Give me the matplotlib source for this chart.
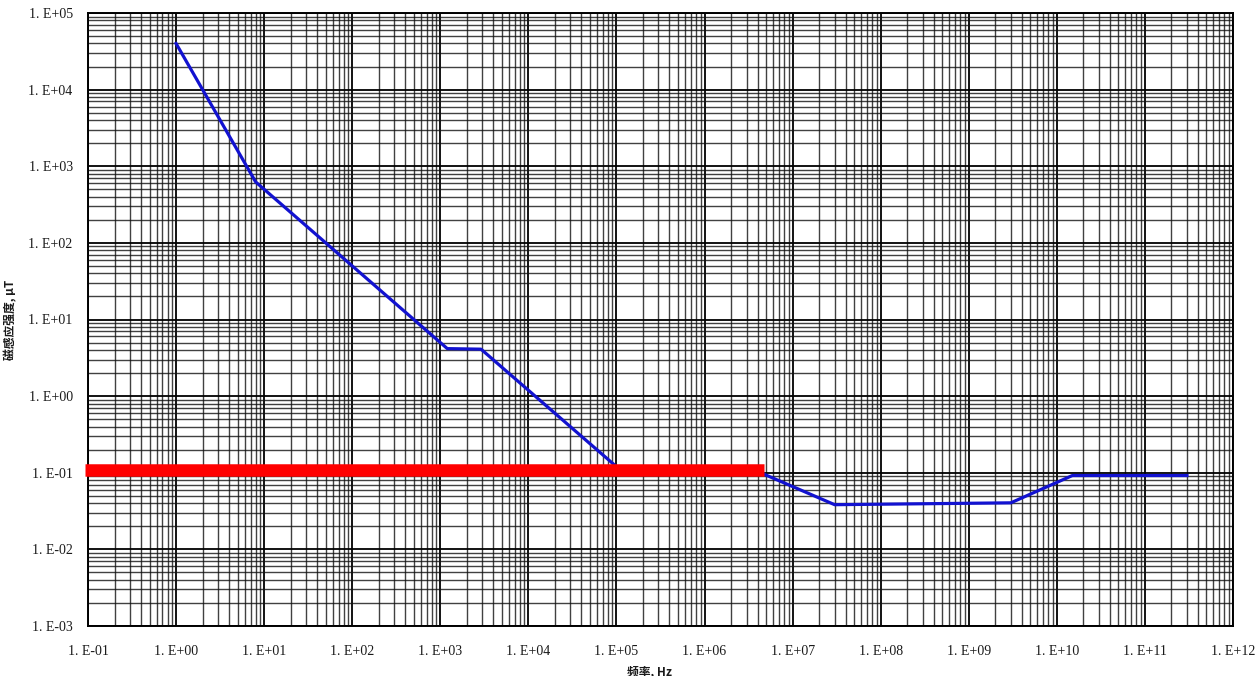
import matplotlib
matplotlib.use("Agg")
import matplotlib.pyplot as plt
import matplotlib.ticker as mt
import numpy as np

# limit curve, frequency in Hz, flux density in uT
freq = [1, 8, 25, 1.2e3, 2.9e3, 1e5, 3e6, 3e7, 3e9, 1.5e10, 3e11]
flux = [4e4, 625, 200, 4.17, 4.1, 0.12, 0.12, 0.0383, 0.0405, 0.092, 0.092]

# red marker line drawn over the chart
red_x = [0.092, 4.7e6]
red_y = [0.11, 0.11]

x_ticks = [10.0 ** k for k in range(-1, 13)]
y_ticks = [10.0 ** k for k in range(-3, 6)]


def e_fmt(v, pos):
    k = int(round(np.log10(v)))
    return "1. E%s%02d" % ("+" if k >= 0 else "-", abs(k))


plt.rcParams['font.family'] = ['Noto Sans CJK SC', 'DejaVu Sans']

fig = plt.figure(figsize=(12.57, 6.76), dpi=100)
ax = fig.add_axes([88 / 1257, 1 - 626 / 676, (1233 - 88) / 1257, (626 - 13) / 676])

ax.set_xscale('log')
ax.set_yscale('log')
ax.set_xlim(1e-1, 1e12)
ax.set_ylim(1e-3, 1e5)

ax.xaxis.set_major_locator(mt.FixedLocator(x_ticks))
ax.yaxis.set_major_locator(mt.FixedLocator(y_ticks))
ax.xaxis.set_minor_locator(mt.LogLocator(base=10, subs=np.arange(2, 10), numticks=30))
ax.yaxis.set_minor_locator(mt.LogLocator(base=10, subs=np.arange(2, 10), numticks=30))
ax.xaxis.set_major_formatter(mt.FuncFormatter(e_fmt))
ax.yaxis.set_major_formatter(mt.FuncFormatter(e_fmt))
ax.xaxis.set_minor_formatter(mt.NullFormatter())
ax.yaxis.set_minor_formatter(mt.NullFormatter())

ax.grid(True, which='major', color='black', linewidth=1.3)
ax.grid(True, which='minor', color='#111111', linewidth=1.0, alpha=0.8)
ax.tick_params(which='both', length=0)
ax.tick_params(axis='x', pad=14)
ax.tick_params(axis='y', pad=11)
for lab in ax.get_xticklabels() + ax.get_yticklabels():
    lab.set_family('Liberation Serif')
    lab.set_fontsize(10)
    lab.set_color('#1a1a1a')
for s in ax.spines.values():
    s.set_color('black')
    s.set_linewidth(1.4)

ax.plot(freq, flux, color='#1212d0', linewidth=2.3, zorder=3)
ax.plot(red_x, red_y, color='#ff0000', linewidth=9, solid_capstyle='butt',
        clip_on=False, zorder=4)

ax.set_xlabel('频率, Hz', fontsize=8.5, color='#1a1a1a', fontweight='bold')
ax.set_ylabel('磁感应强度, μT', fontsize=8.5, color='#1a1a1a', fontweight='bold')
ax.xaxis.set_label_coords(0.49, -0.064)
ax.yaxis.set_label_coords(-0.062, 0.5)

fig.savefig('out.png', dpi=100)
